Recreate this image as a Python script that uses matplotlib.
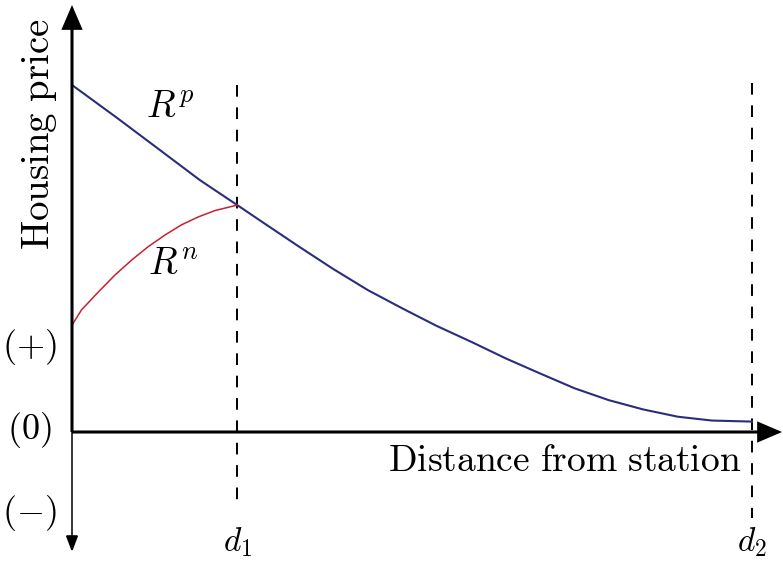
import matplotlib
matplotlib.use("Agg")
import matplotlib.pyplot as plt
from matplotlib.patches import FancyArrowPatch
from matplotlib.patches import ArrowStyle

plt.rcParams['mathtext.fontset'] = 'cm'
plt.rcParams['font.family'] = ['DejaVu Serif']

# ---- data ----
blue_x = [0.0, 0.65, 1.29, 1.88, 2.43, 2.83, 3.34, 3.84, 4.35, 4.86, 5.36, 5.87,
          6.38, 6.88, 7.39, 7.89, 8.40, 8.91, 9.41, 10.0]
blue_y = [10.0, 9.07, 8.13, 7.26, 6.54, 6.01, 5.34, 4.70, 4.09, 3.56, 3.06, 2.60,
          2.12, 1.69, 1.26, 0.92, 0.65, 0.44, 0.33, 0.30]
red_x = [0.0, 0.14, 0.39, 0.63, 0.88, 1.12, 1.37, 1.61, 1.86, 2.10, 2.43]
red_y = [3.08, 3.52, 4.04, 4.52, 4.96, 5.34, 5.68, 5.97, 6.20, 6.38, 6.54]
d_positions = [2.43, 10.0]
d_labels = [r"$d_1$", r"$d_2$"]
sign_labels = [r"$(+)$", r"$(0)$", r"$(-)$"]
sign_y = [2.45, 0.06, -2.33]

fig = plt.figure(figsize=(7.83, 5.62), dpi=100)
ax = fig.add_axes([0, 0, 1, 1])
ax.set_xlim(-72 / 68, (783 - 72) / 68)
ax.set_ylim((432 - 562) / 34.7, 432 / 34.7)
ax.axis('off')

# curves
ax.plot(blue_x, blue_y, color='#2b2d7c', lw=1.5, solid_joinstyle='round', zorder=3)
ax.plot(red_x, red_y, color='#c8202e', lw=1.1, solid_joinstyle='round', zorder=3)

# dashed verticals
ax.plot([d_positions[0]] * 2, [10.0, -2.10], color='k', lw=1.4, dashes=(6, 5.5), zorder=2)
ax.plot([d_positions[1]] * 2, [10.06, -2.48], color='k', lw=1.4, dashes=(6, 5.5), zorder=2)

# axes with arrows
def arrow(p0, p1, lw, hl, hw):
    a = FancyArrowPatch(p0, p1, arrowstyle=ArrowStyle('-|>', head_length=hl, head_width=hw),
                        mutation_scale=1, lw=lw, color='k', shrinkA=0, shrinkB=0,
                        capstyle='butt', joinstyle='miter', zorder=4)
    ax.add_patch(a)

arrow((0, 0), (0, (432 - 5) / 34.7), 2.2, 14, 6)
arrow((0, 0), (0, (432 - 552) / 34.7), 1.1, 10, 3.8)
arrow((0, 0), ((782 - 72) / 68, 0), 2.2, 14, 6)

# texts
ax.text(-0.485, 8.59, r"$\mathrm{Housing\ price}$", rotation=90, ha='center', va='center', fontsize=28)
ax.text(7.25, -0.83, r"$\mathrm{Distance\ from\ station}$", ha='center', va='center', fontsize=27)
ax.text(1.44, 9.37, r"$R^p$", ha='center', va='center', fontsize=27)
ax.text(1.49, 4.84, r"$R^n$", ha='center', va='center', fontsize=27)
for xp, lab in zip(d_positions, d_labels):
    ax.text(xp, -3.18, lab, ha='center', va='center', fontsize=24)
for yv, lab in zip(sign_y, sign_labels):
    ax.text(-0.63, yv, lab, ha='center', va='center', fontsize=26)

fig.savefig("out.png", dpi=100)
